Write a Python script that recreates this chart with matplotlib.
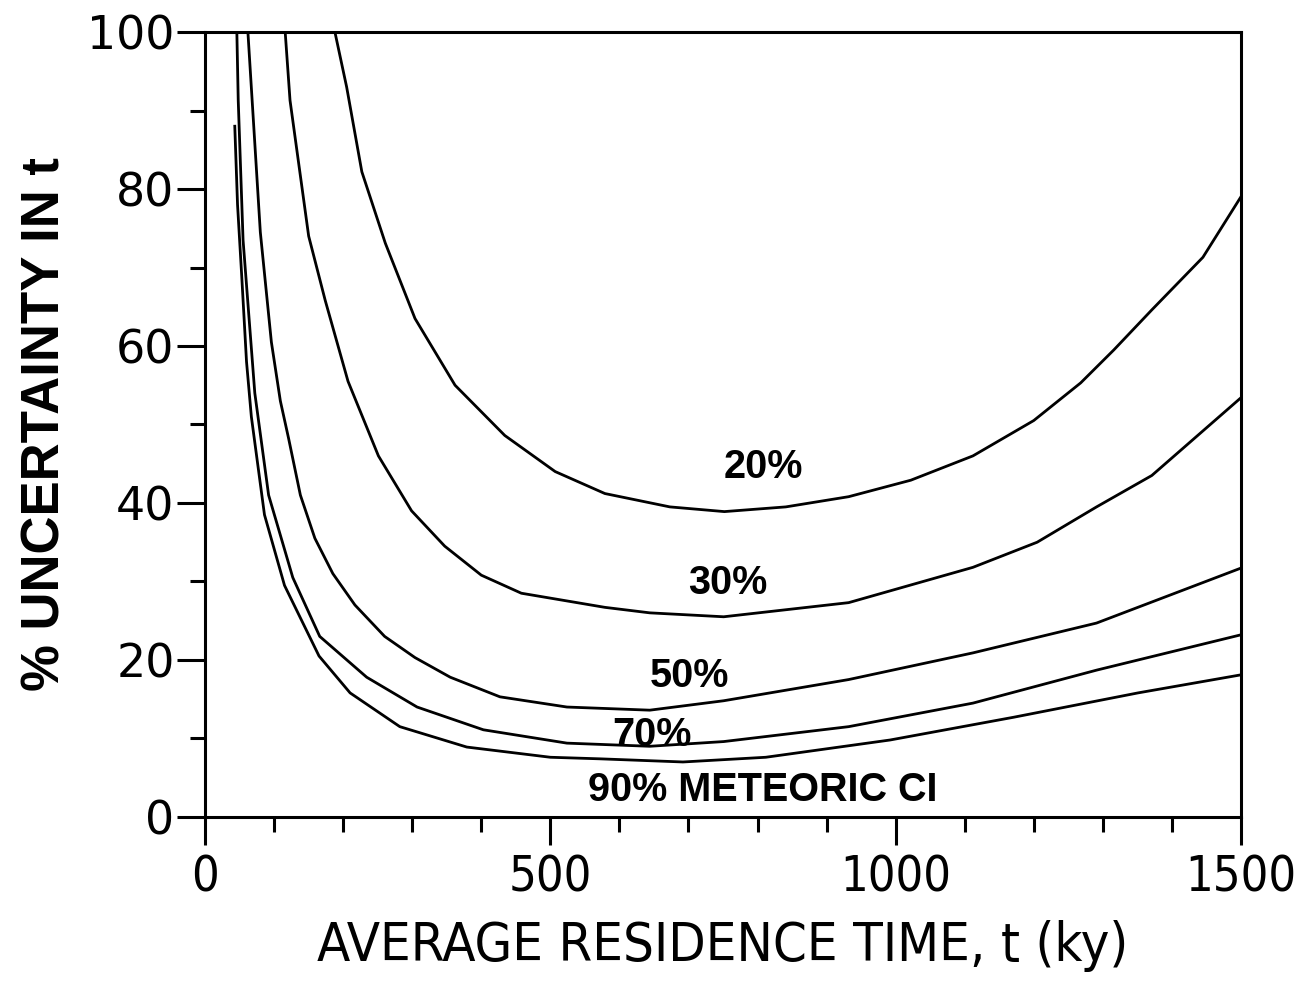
import matplotlib
matplotlib.use("Agg")
import matplotlib.pyplot as plt

# curves: residence time (ky) vs % uncertainty
c20_x = [188, 205, 227, 261, 304, 362, 434, 507, 579, 673, 752, 841, 932, 1022, 1112, 1200, 1268, 1316, 1371, 1445, 1500]
c20_y = [100, 93, 82.2, 73.1, 63.5, 55, 48.6, 44, 41.2, 39.5, 38.9, 39.5, 40.8, 42.9, 46, 50.5, 55.3, 59.5, 64.6, 71.3, 79]

c30_x = [116, 123, 150, 174, 207, 251, 299, 347, 400, 458, 579, 644, 751, 932, 1112, 1205, 1291, 1371, 1500]
c30_y = [100, 91.3, 74, 65.8, 55.5, 46.0, 39.0, 34.5, 30.8, 28.5, 26.7, 26.0, 25.5, 27.3, 31.8, 35, 39.5, 43.5, 53.4]

c50_x = [62, 80, 96, 109, 121, 138, 159, 185, 217, 260, 304, 355, 427, 524, 644, 751, 932, 1112, 1291, 1500]
c50_y = [100, 74.5, 60.5, 53, 48.2, 41, 35.5, 31, 27, 23, 20.3, 17.8, 15.3, 14, 13.6, 14.8, 17.5, 20.9, 24.7, 31.7]

c70_x = [46, 48, 55, 72, 92, 127, 166, 234, 307, 403, 524, 644, 751, 932, 1112, 1291, 1500]
c70_y = [100, 91.3, 73.5, 54, 41, 30.5, 23, 17.8, 14, 11.1, 9.4, 9.0, 9.6, 11.5, 14.5, 18.7, 23.2]

c90_x = [43, 47, 53, 60, 67, 86, 115, 165, 210, 282, 379, 500, 572, 692, 812, 992, 1171, 1351, 1500]
c90_y = [88, 78, 69, 58, 51, 38.5, 29.5, 20.5, 15.8, 11.5, 8.9, 7.6, 7.4, 7.0, 7.6, 9.8, 12.7, 15.8, 18.1]

labels = ["20%", "30%", "50%", "70%", "90% METEORIC CI"]
label_x = [808, 757, 702, 647, 808]
label_y = [44.6, 29.8, 18, 10.4, 3.4]

fig = plt.figure(figsize=(12.98, 9.89), dpi=100)
ax = fig.add_axes([0.158, 0.174, 0.798, 0.7936])

for xs, ys in [(c20_x, c20_y), (c30_x, c30_y), (c50_x, c50_y), (c70_x, c70_y), (c90_x, c90_y)]:
    ax.plot(xs, ys, color="black", lw=2.0)

for txt, tx, ty in zip(labels, label_x, label_y):
    ax.text(tx, ty, txt, ha="center", va="center", fontsize=28.5,
            family="Liberation Sans", fontweight="bold")

ax.set_xlim(0, 1500)
ax.set_ylim(0, 100)
ax.set_xticks([0, 500, 1000, 1500])
ax.set_xticks(range(0, 1501, 100), minor=True)
ax.set_yticks(range(0, 101, 20))
ax.set_yticks(range(0, 101, 10), minor=True)

for sp in ax.spines.values():
    sp.set_linewidth(2.2)

ax.tick_params(which="major", direction="out", length=20, width=2.2)
ax.tick_params(which="minor", direction="out", length=11, width=2.2)
ax.tick_params(axis="x", pad=6)
ax.tick_params(axis="y", pad=2)

for lab in ax.get_xticklabels():
    lab.set_family("DejaVu Sans")
    lab.set_stretch("condensed")
    lab.set_fontsize(35)
for lab in ax.get_yticklabels():
    lab.set_family("DejaVu Sans")
    lab.set_fontsize(33)

ax.set_xlabel("AVERAGE RESIDENCE TIME, t (ky)", family="DejaVu Sans", stretch="condensed",
              fontsize=39, labelpad=14)
ax.set_ylabel("% UNCERTAINTY IN t", family="Liberation Sans", fontweight="bold",
              fontsize=38, labelpad=12)

fig.savefig("out.png", dpi=100)
